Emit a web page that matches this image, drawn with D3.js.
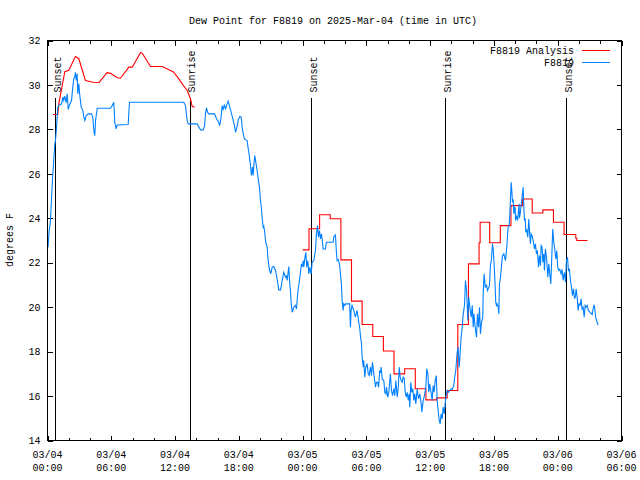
<!DOCTYPE html>
<html>
<head>
<meta charset="utf-8">
<script src="https://cdn.jsdelivr.net/npm/d3@7"></script>
<style>
body { margin: 0; background: #fff; }
svg text { font-family: "Liberation Mono", "DejaVu Sans Mono", monospace; font-size: 10px; fill: #000; }
</style>
</head>
<body>
<svg id="chart" width="640" height="480"></svg>
<script>
// hours after 2025-03-04 00:00 UTC
var yTicks = [14, 16, 18, 20, 22, 24, 26, 28, 30, 32];
var xTickHours = [0, 6, 12, 18, 24, 30, 36, 42, 48, 54];
var xTickDay = ["03/04", "03/04", "03/04", "03/04", "03/05", "03/05", "03/05", "03/05", "03/06", "03/06"];
var xTickTime = ["00:00", "06:00", "12:00", "18:00", "00:00", "06:00", "12:00", "18:00", "00:00", "06:00"];
var xMinorHours = [2, 4, 8, 10, 14, 16, 20, 22, 26, 28, 32, 34, 38, 40, 44, 46, 50, 52];

var sunHours = [0.72, 13.4, 24.8, 37.4, 48.8];
var sunLabels = ["Sunset", "Sunrise", "Sunset", "Sunrise", "Sunset"];

var seriesNames = ["F8819 Analysis", "F8819"];

// analysis, first day (hour, degrees F)
var analysisDay1 = [[0.54,28.67],[0.97,28.67],[1.06,29.15],[1.63,30.6],[2.0,30.66],[2.63,31.28],[2.95,31.18],
  [3.57,30.2],[4.3,30.12],[4.83,30.1],[5.6,30.55],[5.93,30.52],[6.56,30.32],[6.87,30.3],[7.65,30.8],
  [7.97,30.8],[8.75,31.45],[8.91,31.43],[9.69,30.83],[10.79,30.83],[11.57,30.65],[11.88,30.57],
  [12.35,30.27],[12.67,30.05],[13.14,29.75],[13.45,29.38],[13.61,29.04],[13.85,29.0]];

// analysis, second day, hourly steps (start hour, degrees F)
var analysisDay2 = [[24.0,22.58],[24.6,23.53],[25.6,24.16],[26.6,23.98],[27.6,22.13],[28.6,20.27],
  [29.6,19.22],[30.6,18.68],[31.6,18.03],[32.6,17.0],[33.6,17.23],[34.6,16.33],[35.6,15.83],
  [36.6,15.92],[37.6,16.25],[38.6,19.22],[39.6,21.95],[40.6,22.9],[40.7,23.82],[41.6,22.9],
  [42.6,23.67],[43.6,24.57],[44.7,24.87],[45.6,24.24],[46.6,24.38],[47.6,23.82],[48.6,23.27],
  [49.7,23.1],[49.8,23.0],[50.8,23.0]];

// station observations (hour, degrees F)
var observed = [[0.05,22.7],[0.15,23.4],[0.28,23.9],[0.44,25.5],[0.5,26.0],[0.69,27.35],[0.75,27.5],
  [0.85,28.1],[0.97,29.0],[1.06,29.07],[1.32,29.15],[1.44,29.45],[1.53,29.3],[1.63,29.5],[1.76,29.2],
  [1.85,29.6],[1.95,28.9],[2.07,29.1],[2.26,29.3],[2.38,29.9],[2.47,30.27],[2.57,30.38],[2.63,30.57],
  [2.7,30.2],[2.79,30.5],[2.85,29.6],[2.95,30.05],[3.01,29.65],[3.17,29.0],[3.32,28.85],[3.42,28.55],
  [3.51,28.4],[3.64,28.62],[3.83,28.7],[4.14,28.7],[4.26,28.55],[4.36,27.95],[4.45,27.72],[4.52,28.4],
  [4.68,28.95],[5.93,28.95],[6.09,29.07],[6.24,29.22],[6.33,28.32],[6.46,28.02],[6.56,28.2],[7.59,28.22],
  [7.71,29.22],[12.82,29.22],[12.98,29.07],[13.14,28.4],[13.24,28.25],[14.08,28.25],[14.39,27.98],
  [14.65,27.98],[14.78,28.17],[14.86,28.7],[14.96,28.97],[15.05,28.78],[15.17,28.7],[15.71,28.7],
  [15.9,28.48],[16.11,28.32],[16.2,28.17],[16.33,28.55],[16.43,29.07],[16.52,28.9],[16.65,29.12],
  [16.74,28.9],[16.9,29.15],[17.0,29.27],[17.15,29.0],[17.28,28.77],[17.43,28.48],[17.59,28.17],
  [17.69,27.87],[17.85,28.17],[17.94,28.43],[18.09,28.58],[18.22,28.55],[18.31,28.1],[18.41,27.8],
  [18.53,27.57],[18.78,27.5],[18.84,27.27],[18.94,26.97],[19.1,26.37],[19.19,25.93],[19.29,26.3],
  [19.35,25.93],[19.41,26.37],[19.5,26.82],[19.6,26.52],[19.72,26.15],[19.82,25.77],[19.94,25.4],
  [20.04,24.8],[20.13,24.42],[20.2,23.98],[20.29,23.6],[20.35,23.65],[20.41,23.45],[20.53,22.92],
  [20.67,22.7],[20.73,22.25],[20.82,21.87],[20.91,21.65],[21.0,21.5],[21.14,21.8],[21.29,21.83],
  [21.45,21.65],[21.6,21.27],[21.76,20.78],[21.92,20.78],[22.08,21.2],[22.23,21.57],[22.39,21.35],
  [22.48,21.4],[22.55,21.2],[22.7,21.83],[22.79,21.05],[22.86,20.75],[22.93,20.15],[23.02,19.77],
  [23.17,20.0],[23.33,20.08],[23.42,19.92],[23.55,20.67],[23.68,21.12],[23.8,21.57],[23.9,21.95],
  [23.99,21.83],[24.05,22.1],[24.11,21.8],[24.2,22.17],[24.3,22.47],[24.39,21.8],[24.49,22.1],
  [24.58,21.5],[24.68,21.8],[24.8,21.5],[24.9,22.02],[25.05,22.1],[25.21,22.55],[25.3,23.3],
  [25.4,23.67],[25.49,23.15],[25.59,23.45],[25.68,23.07],[25.77,23.3],[25.87,22.92],[25.93,22.62],
  [26.15,22.62],[26.24,22.92],[26.87,22.92],[26.93,23.17],[27.09,23.25],[27.18,22.47],[27.25,22.1],
  [27.34,22.15],[27.47,21.95],[27.56,21.5],[27.65,21.05],[27.72,20.3],[27.81,19.85],[27.87,20.15],
  [27.97,20.08],[28.03,20.15],[28.43,20.15],[28.5,19.1],[28.56,19.85],[28.65,20.08],[28.81,19.85],
  [28.97,19.55],[29.12,19.85],[29.29,19.32],[29.38,19.02],[29.44,18.72],[29.54,18.35],[29.6,17.75],
  [29.7,17.3],[29.75,17.6],[29.85,16.85],[29.94,17.3],[30.07,17.45],[30.17,17.0],[30.26,16.92],
  [30.38,17.3],[30.48,16.92],[30.57,17.52],[30.7,17.0],[30.86,16.4],[30.95,16.62],[31.07,16.62],
  [31.15,16.4],[31.25,17.15],[31.34,17.05],[31.39,17.3],[31.49,16.77],[31.64,16.7],[31.73,16.17],
  [31.83,16.1],[31.89,16.4],[32.01,15.95],[32.11,16.17],[32.2,16.7],[32.26,17.0],[32.36,16.25],
  [32.46,16.02],[32.58,16.33],[32.67,16.02],[32.77,16.7],[32.9,15.95],[33.0,16.4],[33.09,17.3],
  [33.18,16.85],[33.27,16.7],[33.37,16.62],[33.46,16.85],[33.56,16.8],[33.65,16.17],[33.75,15.95],
  [33.84,16.17],[33.94,15.8],[34.03,16.1],[34.08,15.5],[34.18,16.62],[34.27,16.17],[34.37,16.33],
  [34.46,15.8],[34.55,16.1],[34.65,15.65],[34.78,16.33],[34.9,15.87],[35.03,16.1],[35.16,15.65],
  [35.22,15.27],[35.34,15.8],[35.46,16.02],[35.59,16.4],[35.68,17.23],[35.78,17.0],[35.87,16.17],
  [35.96,16.55],[36.1,16.1],[36.19,15.8],[36.28,16.47],[36.37,16.17],[36.47,16.7],[36.57,16.92],
  [36.66,15.8],[36.75,15.35],[36.85,14.9],[36.94,14.75],[37.03,15.2],[37.13,14.97],[37.22,15.5],
  [37.32,15.2],[37.41,15.65],[37.5,16.02],[37.6,16.25],[37.72,16.17],[37.85,16.25],[37.98,16.33],
  [38.07,16.3],[38.22,16.47],[38.31,16.85],[38.41,17.15],[38.48,17.6],[38.54,17.97],[38.63,18.2],
  [38.72,17.3],[38.78,17.6],[38.9,18.57],[39.01,19.1],[39.11,19.7],[39.23,20.08],[39.32,21.2],
  [39.42,20.75],[39.48,20.15],[39.54,19.4],[39.63,20.45],[39.73,20.0],[39.86,19.55],[39.96,20.08],
  [40.05,19.1],[40.11,19.7],[40.27,18.95],[40.36,18.65],[40.45,19.7],[40.55,19.1],[40.64,20.0],
  [40.73,18.8],[40.83,19.32],[40.95,19.55],[40.99,20.67],[41.08,21.5],[41.18,20.9],[41.31,20.98],
  [41.4,20.75],[41.58,20.98],[41.67,21.87],[41.77,22.17],[41.86,22.85],[41.93,22.6],[41.99,22.17],
  [42.08,21.35],[42.17,20.23],[42.24,20.08],[42.3,20.15],[42.4,20.0],[42.46,19.7],[42.52,21.05],
  [42.62,21.35],[42.71,21.87],[42.8,22.32],[42.93,22.4],[43.08,22.1],[43.18,22.55],[43.24,22.92],
  [43.33,23.6],[43.43,23.67],[43.5,24.2],[43.56,24.95],[43.62,25.62],[43.68,25.25],[43.74,24.72],
  [43.81,24.85],[43.87,24.2],[43.96,24.5],[44.0,24.45],[44.03,23.9],[44.12,24.12],[44.22,23.9],
  [44.37,24.65],[44.4,24.0],[44.49,24.27],[44.68,25.1],[44.75,25.4],[44.81,24.5],[44.87,23.9],
  [44.94,24.0],[45.0,23.37],[45.09,23.5],[45.18,23.15],[45.28,23.97],[45.37,23.22],[45.44,22.85],
  [45.5,23.3],[45.6,23.2],[45.69,23.0],[45.81,22.62],[45.9,22.85],[46.0,22.4],[46.09,22.55],
  [46.19,21.8],[46.28,22.32],[46.38,21.87],[46.44,22.77],[46.53,22.7],[46.6,22.02],[46.69,22.4],
  [46.75,21.65],[46.84,22.62],[46.94,22.25],[47.07,21.35],[47.16,21.95],[47.25,21.5],[47.35,21.05],
  [47.44,22.25],[47.53,23.52],[47.63,22.92],[47.72,22.62],[47.82,22.17],[47.91,22.55],[48.0,21.8],
  [48.1,21.65],[48.19,21.7],[48.32,21.5],[48.41,21.7],[48.51,21.2],[48.63,21.57],[48.73,21.12],
  [48.82,22.1],[48.92,22.25],[49.01,21.65],[49.1,21.7],[49.2,21.2],[49.29,20.9],[49.39,20.52],
  [49.48,20.83],[49.58,20.38],[49.67,20.5],[49.73,20.83],[49.83,20.45],[49.92,19.85],[50.01,20.15],
  [50.11,20.1],[50.2,20.38],[50.29,19.92],[50.39,20.0],[50.49,19.55],[50.58,20.08],[50.67,20.0],
  [50.77,20.08],[50.88,19.85],[51.04,19.77],[51.24,19.67],[51.33,19.92],[51.42,20.1],[51.48,19.95],
  [51.57,19.55],[51.71,19.32],[51.8,19.2]];

var svg = d3.select("#chart");
var plotLeft = 47.5, plotRight = 621.5, plotTop = 40.5, plotBottom = 440.5;

var x = d3.scaleLinear().domain([0, 54]).range([plotLeft, plotRight]);
var y = d3.scaleLinear().domain([14, 32]).range([plotBottom, plotTop]);

svg.append("text")
  .attr("x", 333).attr("y", 24)
  .attr("text-anchor", "middle")
  .text("Dew Point for F8819 on 2025-Mar-04 (time in UTC)");

svg.append("text")
  .attr("transform", "translate(13,240) rotate(-90)")
  .attr("text-anchor", "middle")
  .text("degrees F");

function noDomain(g){ g.select(".domain").remove(); }

// x axis, bottom and top (ticks inward)
svg.append("g").attr("transform", "translate(0," + plotBottom + ")")
  .call(d3.axisBottom(x).tickValues(xTickHours).tickSize(-5).tickFormat(""))
  .call(noDomain);
svg.append("g").attr("transform", "translate(0," + plotBottom + ")")
  .call(d3.axisBottom(x).tickValues(xMinorHours).tickSize(-3).tickFormat(""))
  .call(noDomain);
svg.append("g").attr("transform", "translate(0," + plotTop + ")")
  .call(d3.axisTop(x).tickValues(xTickHours).tickSize(-5).tickFormat(""))
  .call(noDomain);
svg.append("g").attr("transform", "translate(0," + plotTop + ")")
  .call(d3.axisTop(x).tickValues(xMinorHours).tickSize(-3).tickFormat(""))
  .call(noDomain);

var xl = svg.append("g").selectAll("text").data(xTickHours).join("text")
  .attr("text-anchor", "middle")
  .attr("transform", function(d){ return "translate(" + x(d) + ",0)"; });
xl.append("tspan").attr("x", 0).attr("y", 458).text(function(d, i){ return xTickDay[i]; });
xl.append("tspan").attr("x", 0).attr("y", 471).text(function(d, i){ return xTickTime[i]; });

// y axis, left and right
svg.append("g").attr("transform", "translate(" + plotLeft + ",0)")
  .call(d3.axisLeft(y).tickValues(yTicks).tickSize(-5).tickPadding(7).tickFormat(d3.format("d")))
  .call(noDomain);
svg.append("g").attr("transform", "translate(" + plotRight + ",0)")
  .call(d3.axisRight(y).tickValues(yTicks).tickSize(-5).tickFormat(""))
  .call(noDomain);

svg.selectAll(".tick line").attr("shape-rendering", "crispEdges");

// sunrise / sunset markers
var ev = svg.append("g").selectAll("g").data(sunHours).join("g");
ev.append("line")
  .attr("x1", function(d){ return Math.round(x(d)) + 0.5; })
  .attr("x2", function(d){ return Math.round(x(d)) + 0.5; })
  .attr("y1", 98).attr("y2", plotBottom)
  .attr("stroke", "#000").attr("shape-rendering", "crispEdges");
ev.append("text")
  .attr("transform", function(d){ return "translate(" + (x(d) + 5.5) + ",92.5) rotate(-90)"; })
  .text(function(d, i){ return sunLabels[i]; });

// series
var line = d3.line().x(function(d){ return x(d[0]); }).y(function(d){ return y(d[1]); });
var stepLine = d3.line().curve(d3.curveStepAfter)
  .x(function(d){ return x(d[0]); }).y(function(d){ return y(d[1]); });

svg.append("path").datum(analysisDay1).attr("d", line)
  .attr("fill", "none").attr("stroke", "#ff0000").attr("stroke-width", 1.1);
svg.append("path").datum(analysisDay2).attr("d", stepLine)
  .attr("fill", "none").attr("stroke", "#ff0000").attr("stroke-width", 1.1);
svg.append("path").datum(observed).attr("d", line)
  .attr("fill", "none").attr("stroke", "#0080ff").attr("stroke-width", 1.1);

// legend
var legendColors = ["#ff0000", "#0080ff"];
var lg = svg.append("g").selectAll("g").data(seriesNames).join("g")
  .attr("transform", function(d, i){ return "translate(0," + (50.5 + i * 12) + ")"; });
lg.append("text").attr("x", 574).attr("dy", "0.35em").attr("text-anchor", "end").text(function(d){ return d; });
lg.append("line").attr("x1", 582).attr("x2", 610)
  .attr("stroke", function(d, i){ return legendColors[i]; })
  .attr("shape-rendering", "crispEdges");

// frame
svg.append("rect")
  .attr("x", plotLeft).attr("y", plotTop)
  .attr("width", plotRight - plotLeft).attr("height", plotBottom - plotTop)
  .attr("fill", "none").attr("stroke", "#000").attr("shape-rendering", "crispEdges");
</script>
</body>
</html>
